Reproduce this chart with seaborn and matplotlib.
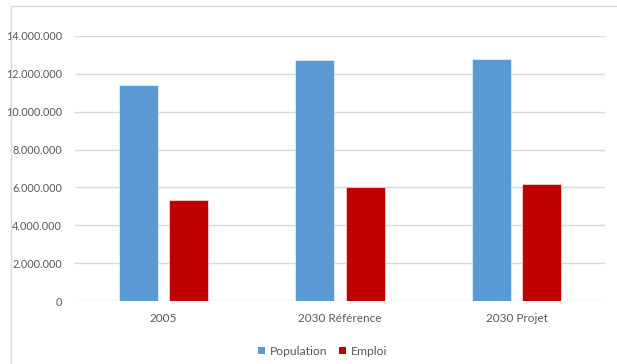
import matplotlib
matplotlib.use("Agg")
import matplotlib.pyplot as plt
import seaborn as sns
import pandas as pd
from matplotlib.ticker import FuncFormatter, MultipleLocator
from matplotlib.patches import Rectangle, Patch

categories = ["2005", "2030 Référence", "2030 Projet"]
population = [11400000, 12730000, 12800000]
emploi = [5350000, 6020000, 6160000]
series = ["Population", "Emploi"]
colors = ["#5B9BD5", "#C00000"]

df = pd.DataFrame({
    "cat": categories * 2,
    "serie": [series[0]] * 3 + [series[1]] * 3,
    "val": population + emploi,
})

sns.set_style("white")
plt.rcParams["font.family"] = ["Lato", "DejaVu Sans"]

W, H = 617, 364
fig = plt.figure(figsize=(W / 100, H / 100), dpi=100)
ax = fig.add_axes([75 / W, 1 - 301 / H, 530 / W, 265 / H])

sns.barplot(data=df, x="cat", y="val", hue="serie", order=categories,
            hue_order=series, palette=colors, width=0.567, gap=0.22,
            saturation=1, ax=ax, legend=False, edgecolor="white", linewidth=0.4)

ax.set_ylim(0, 14000000)
ax.set_xlim(-0.5, 2.5)
ax.yaxis.set_major_locator(MultipleLocator(2000000))
ax.yaxis.set_major_formatter(FuncFormatter(lambda v, p: f"{int(v):,}".replace(",", ".")))
ax.grid(axis="y", color="#d9d9d9", linewidth=1)
ax.set_axisbelow(True)
for s in ax.spines.values():
    s.set_visible(False)
ax.set_xlabel("")
ax.set_ylabel("")
ax.tick_params(axis="both", length=0, labelcolor="#595959")
ax.tick_params(axis="y", pad=9.5, labelsize=7.8)
ax.tick_params(axis="x", pad=8.5, labelsize=8.5)

# chart frame
fig.patches.append(Rectangle((11 / W, -0.1), 1.2, 1 - 6 / H + 0.1, transform=fig.transFigure,
                             fill=False, edgecolor="#d9d9d9", linewidth=1))

handles = [Patch(facecolor=c, edgecolor="none") for c in colors]
fig.legend(handles, series, loc="center", bbox_to_anchor=(322.5 / W, 1 - 351.5 / H),
           ncol=2, frameon=False, fontsize=8.7, labelcolor="#595959",
           handlelength=0.55, handleheight=0.55, handletextpad=0.4, columnspacing=1.0)

fig.savefig("out.png", dpi=100)
